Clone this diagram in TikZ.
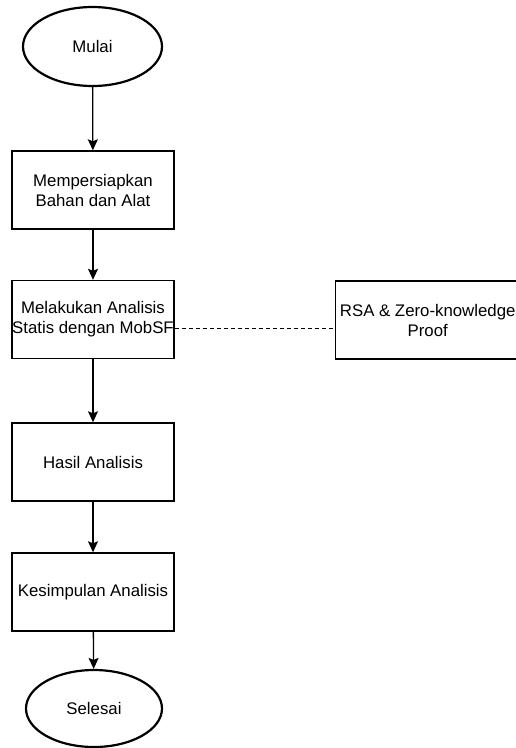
\documentclass[tikz,border=0pt]{standalone}
\usepackage{fontspec}
\setmainfont{Liberation Sans}
\usetikzlibrary{shapes.geometric,arrows.meta}
\begin{document}
\begin{tikzpicture}[x=1pt, y=-1pt,
		every node/.style = {align=center, font=\fontsize{16.8}{20}\selectfont},
		terminal/.style = {ellipse, draw, line width=2.2pt, inner sep=0pt},
		process/.style = {rectangle, draw, line width=1.4pt, minimum width=162pt, minimum height=78pt, inner sep=0pt},
		flow/.style = {-{Stealth[length=11pt,width=10pt,inset=2pt]}, line width=1.3pt}]
		\useasboundingbox (0,0) rectangle (515,748);
		\node[terminal, minimum width=139pt, minimum height=79pt] (mulai) at (92.5,46.5) {Mulai};
		\node[process] (siap) at (93,190) {Mempersiapkan\\Bahan dan Alat};
		\node[process] (statis) at (93,319.5) {Melakukan Analisis\\Statis dengan MobSF};
		\node[process, minimum width=184pt, anchor=west] (rsa) at (335,320) {RSA \& Zero-knowledge\\Proof};
		\node[process] (hasil) at (93,462) {Hasil Analisis};
		\node[process] (simpul) at (93,592) {Kesimpulan Analisis};
		\node[terminal, minimum width=136pt, minimum height=77pt] (selesai) at (94,708.5) {Selesai};
		\draw[flow] (mulai) -- (siap);
		\draw[flow] (siap) -- (statis);
		\draw[flow] (statis) -- (hasil);
		\draw[flow] (hasil) -- (simpul);
		\draw[flow] (simpul) -- (selesai);
		\draw[dashed, dash pattern=on 4pt off 3pt, line width=1pt] ([yshift=-8.5pt]statis.east) -- ([yshift=-8.5pt]statis.east -| rsa.west);
	\end{tikzpicture}
\end{document}
